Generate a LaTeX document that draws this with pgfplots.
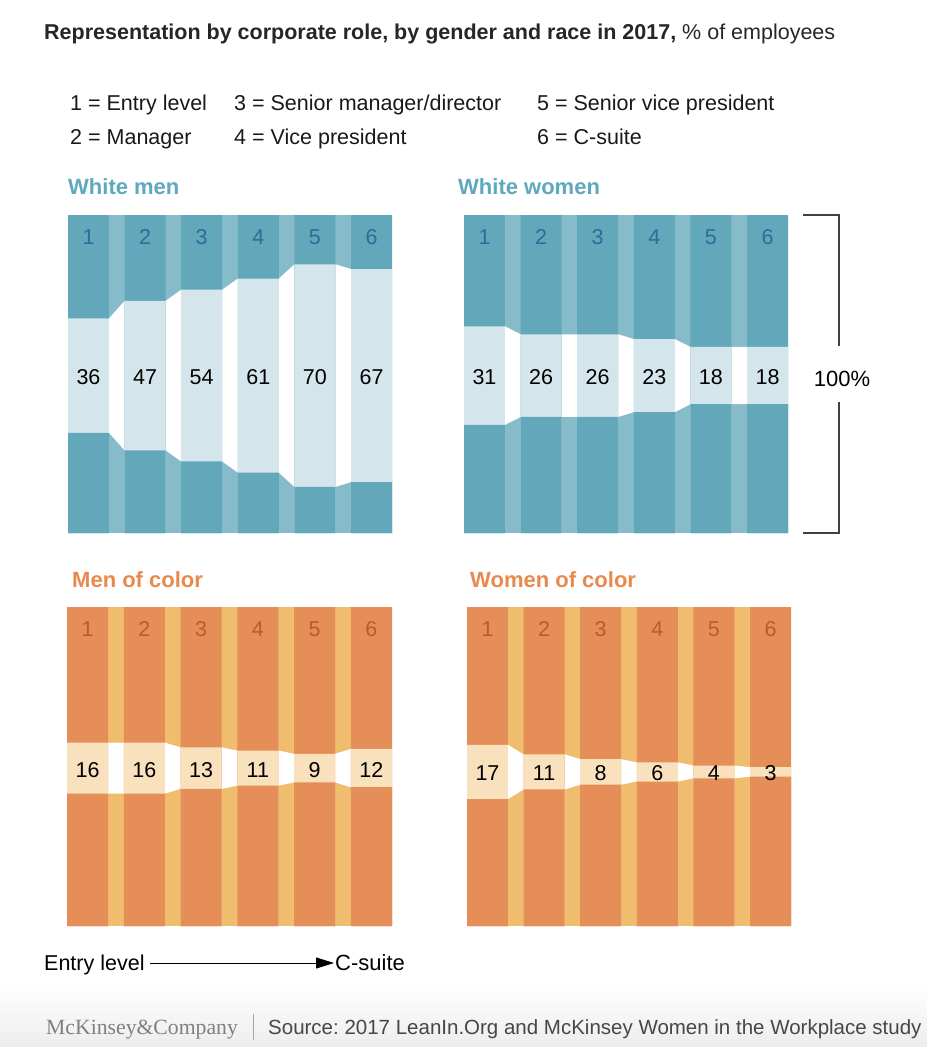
\documentclass[border=0pt]{standalone}
\usepackage{pgfplots}
\pgfplotsset{compat=1.18}
\usepackage{pgfplotstable}
\usepackage{fontspec}
\setmainfont{Liberation Sans}
\newfontfamily\seriffont{Liberation Serif}
\usetikzlibrary{arrows.meta}
\frenchspacing

\definecolor{tdark}{HTML}{63A8BA}
\definecolor{tgap}{HTML}{86BCCA}
\definecolor{tband}{HTML}{D4E6EC}
\definecolor{tdigit}{HTML}{2C6C9A}
\definecolor{ttitle}{HTML}{5EA9BE}
\definecolor{odark}{HTML}{E68E58}
\definecolor{ogap}{HTML}{F0BC6E}
\definecolor{oband}{HTML}{F8E1BC}
\definecolor{odigit}{HTML}{B85C28}
\definecolor{otitle}{HTML}{E8894E}

% ---- data: share of employees (%) at each level 1..6 ----
% columns: n = level, xc = column centre, v = share (%)
\pgfplotstableread{
n xc v
1 0.362 36
2 1.362 47
3 2.362 54
4 3.362 61
5 4.362 70
6 5.362 67
}\wmcols
\pgfplotstableread{
n xc v
1 0.362 31
2 1.362 26
3 2.362 26
4 3.362 23
5 4.362 18
6 5.362 18
}\wwcols
\pgfplotstableread{
n xc v
1 0.362 16
2 1.362 16
3 2.362 13
4 3.362 11
5 4.362 9
6 5.362 12
}\mccols
\pgfplotstableread{
n xc v
1 0.362 17
2 1.362 11
3 2.362 8
4 3.362 6
5 4.362 4
6 5.362 3
}\wccols
% band outline (column edges; s=+1 upper edge left->right, s=-1 lower edge right->left)
\pgfplotstableread{
x v s
0 36 1
0.724 36 1
1 47 1
1.724 47 1
2 54 1
2.724 54 1
3 61 1
3.724 61 1
4 70 1
4.724 70 1
5 67 1
5.724 67 1
5.724 67 -1
5 67 -1
4.724 70 -1
4 70 -1
3.724 61 -1
3 61 -1
2.724 54 -1
2 54 -1
1.724 47 -1
1 47 -1
0.724 36 -1
0 36 -1
}\wmpoly
\pgfplotstableread{
x v s
0 31 1
0.724 31 1
1 26 1
1.724 26 1
2 26 1
2.724 26 1
3 23 1
3.724 23 1
4 18 1
4.724 18 1
5 18 1
5.724 18 1
5.724 18 -1
5 18 -1
4.724 18 -1
4 18 -1
3.724 23 -1
3 23 -1
2.724 26 -1
2 26 -1
1.724 26 -1
1 26 -1
0.724 31 -1
0 31 -1
}\wwpoly
\pgfplotstableread{
x v s
0 16 1
0.724 16 1
1 16 1
1.724 16 1
2 13 1
2.724 13 1
3 11 1
3.724 11 1
4 9 1
4.724 9 1
5 12 1
5.724 12 1
5.724 12 -1
5 12 -1
4.724 9 -1
4 9 -1
3.724 11 -1
3 11 -1
2.724 13 -1
2 13 -1
1.724 16 -1
1 16 -1
0.724 16 -1
0 16 -1
}\mcpoly
\pgfplotstableread{
x v s
0 17 1
0.724 17 1
1 11 1
1.724 11 1
2 8 1
2.724 8 1
3 6 1
3.724 6 1
4 4 1
4.724 4 1
5 3 1
5.724 3 1
5.724 3 -1
5 3 -1
4.724 4 -1
4 4 -1
3.724 6 -1
3 6 -1
2.724 8 -1
2 8 -1
1.724 11 -1
1 11 -1
0.724 17 -1
0 17 -1
}\wcpoly

\newcommand{\lbl}{\fontsize{21.5}{25}\selectfont}
\newcommand{\ttl}{\fontsize{22}{26}\selectfont\bfseries}

\newcommand{\panel}[7]{%
\begin{axis}[at={#1}, anchor=south west, scale only axis, width=#2, height=#3,
  xmin=0, xmax=5.724, ymin=0, ymax=100, enlargelimits=false, hide axis, clip=true]
\addplot[ybar, bar width=5.724, bar shift=0pt, fill=#7gap, draw=none] coordinates {(2.862,100)};
\addplot[fill=white, draw=none] table[x=x, y expr=#6+0.5*\thisrow{s}*\thisrow{v}] {#5} -- cycle;
\addplot[ybar, bar width=0.724, bar shift=0pt, fill=#7dark, draw=none] table[x=xc, y expr=100] {#4};
\addplot[ybar, bar width=0.724, bar shift=0pt, fill=#7band, draw=none] table[x=xc, y expr=#6+0.5*\thisrow{v}] {#4};
\addplot[ybar, bar width=0.724, bar shift=0pt, fill=#7dark, draw=none] table[x=xc, y expr=#6-0.5*\thisrow{v}] {#4};
\addplot[draw=none, nodes near coords, point meta=explicit symbolic, nodes near coords align=center,
  every node near coord/.append style={font=\lbl, text=#7digit, inner sep=0pt}]
  table[x=xc, y expr=93, meta=n] {#4};
\addplot[draw=none, nodes near coords, point meta=explicit symbolic, nodes near coords align=center,
  every node near coord/.append style={font=\lbl, text=black, inner sep=0pt}]
  table[x=xc, y expr=#6-0.5, meta=v] {#4};
\end{axis}}

\begin{document}
\begin{tikzpicture}
\fill[white] (0pt,0pt) rectangle (927pt,-1047pt);
\shade[top color=white, bottom color=black!7] (0pt,-982pt) rectangle (927pt,-1047pt);

% title
\node[anchor=base west, inner sep=0pt, text=black!85] at (44pt,-39pt)
  {\lbl\bfseries Representation by corporate role, by gender and race in 2017,\mdseries\ \% of employees};

% key
\begin{scope}[every node/.style={anchor=base west, inner sep=0pt, text=black!90, font=\lbl}]
\node at (70pt,-110pt) {1 = Entry level};
\node at (234pt,-110pt) {3 = Senior manager/director};
\node at (537pt,-110pt) {5 = Senior vice president};
\node at (70pt,-144pt) {2 = Manager};
\node at (234pt,-144pt) {4 = Vice president};
\node at (537pt,-144pt) {6 = C-suite};
\end{scope}

% panel titles
\node[anchor=base west, inner sep=0pt, text=ttitle, font=\ttl] at (68pt,-194pt) {White men};
\node[anchor=base west, inner sep=0pt, text=ttitle, font=\ttl] at (458pt,-194pt) {White women};
\node[anchor=base west, inner sep=0pt, text=otitle, font=\ttl] at (72pt,-587pt) {Men of color};
\node[anchor=base west, inner sep=0pt, text=otitle, font=\ttl] at (470pt,-587pt) {Women of color};

\panel{(68pt,-533pt)}{324pt}{318pt}{\wmcols}{\wmpoly}{49.5}{t}
\panel{(464pt,-533pt)}{324pt}{318pt}{\wwcols}{\wwpoly}{49.5}{t}
\panel{(67pt,-926pt)}{325pt}{319pt}{\mccols}{\mcpoly}{49.5}{o}
\panel{(467pt,-926pt)}{324pt}{319pt}{\wccols}{\wcpoly}{48.3}{o}

% 100% bracket
\draw[black!75, line width=1.2pt] (803pt,-215pt) -- (839pt,-215pt) -- (839pt,-346pt);
\draw[black!75, line width=1.2pt] (839pt,-402pt) -- (839pt,-533pt) -- (803pt,-533pt);
\node[anchor=base, inner sep=0pt, font=\fontsize{22}{26}\selectfont, text=black] at (842pt,-386pt) {100\%};

% direction
\node[anchor=base west, inner sep=0pt, font=\lbl, text=black] at (44pt,-970pt) {Entry level};
\draw[-{Triangle[length=18pt,width=11pt]}, line width=1pt] (150pt,-963pt) -- (334pt,-963pt);
\node[anchor=base west, inner sep=0pt, font=\fontsize{22}{26}\selectfont, text=black] at (335pt,-970pt) {C-suite};

% footer
\node[anchor=base west, inner sep=0pt, text=black!50, font=\fontsize{21.7}{25}\selectfont\seriffont] at (46pt,-1034pt) {McKinsey\&Company};
\draw[black!35, line width=0.8pt] (253pt,-1014pt) -- (253pt,-1040pt);
\node[anchor=base west, inner sep=0pt, text=black!72, font=\fontsize{20.5}{24}\selectfont] at (268pt,-1034pt) {Source: 2017 LeanIn.Org and McKinsey Women in the Workplace study};
\pgfresetboundingbox
\path (0pt,0pt) rectangle (927pt,-1047pt);
\end{tikzpicture}
\end{document}
